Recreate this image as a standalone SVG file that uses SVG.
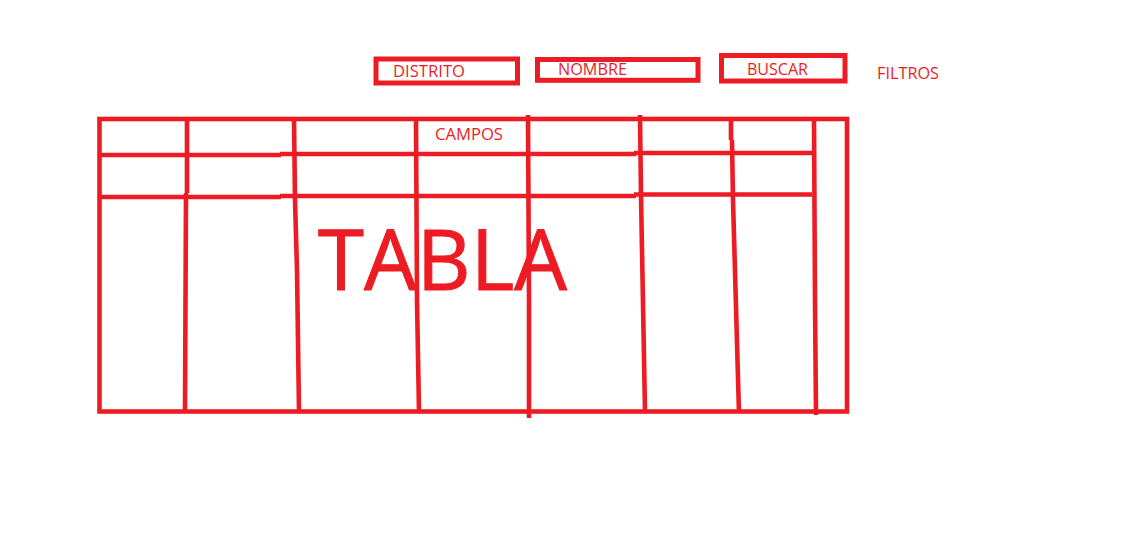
<svg xmlns="http://www.w3.org/2000/svg" width="1139" height="549" viewBox="0 0 1139 549">
<style>
.ln{fill:none;stroke:#ED1C24;stroke-width:4.6;stroke-linecap:butt;stroke-linejoin:miter}
.box{fill:none;stroke:#ED1C24;stroke-width:5}
.t{font-family:"Open Sans","Liberation Sans",sans-serif;fill:#ED1C24;font-size:16px}
.big{font-family:"Open Sans","Liberation Sans",sans-serif;fill:#ED1C24;stroke:#ED1C24;stroke-width:1;font-size:84px}
</style>
<rect width="1139" height="549" fill="#fff"/>
<g id="filtro-distrito">
<rect class="box" x="376" y="59" width="141.5" height="24"/>
<text class="t" x="393" y="77" textLength="72" lengthAdjust="spacingAndGlyphs">DISTRITO</text>
</g>
<g id="filtro-nombre">
<rect class="box" x="537.5" y="59.5" width="160.5" height="20.8"/>
<text class="t" x="558" y="75" textLength="69" lengthAdjust="spacingAndGlyphs">NOMBRE</text>
</g>
<g id="boton-buscar">
<rect class="box" x="721.5" y="55.5" width="123.5" height="25.5"/>
<text class="t" x="747" y="75" textLength="61" lengthAdjust="spacingAndGlyphs">BUSCAR</text>
</g>
<g id="etiqueta-filtros">
<text class="t" x="877" y="79" textLength="62" lengthAdjust="spacingAndGlyphs">FILTROS</text>
</g>
<g id="tabla">
<rect class="ln" x="99.5" y="119" width="747.5" height="292.5"/>
<text class="t" x="435" y="140" textLength="68" lengthAdjust="spacingAndGlyphs">CAMPOS</text>
<text class="big" x="318" y="290" textLength="249" lengthAdjust="spacingAndGlyphs">TABLA</text>
</g>
<g id="lineas">
<path class="ln" d="M99,155 L281,155 M280,154 L636,154 M634,153 L812,153"/>
<path class="ln" d="M99,197 L281,197 M280,196 L636,196 M634,194.5 L812,194.5"/>
<path class="ln" d="M187,119 L187,193 M186,193 L185,411"/>
<path class="ln" d="M294,119 L295,200 L297,270 L299,411"/>
<path class="ln" d="M416,119 L417,300 L419,411"/>
<path class="ln" d="M528,115 L529,300 L529,418"/>
<path class="ln" d="M640,115 L641,195 L642,250 L645,411"/>
<path class="ln" d="M731,119 L731,140 M732,140 L733,200 L739,413"/>
<path class="ln" d="M814,119 L815,300 L816,415"/>
</g>
</svg>
